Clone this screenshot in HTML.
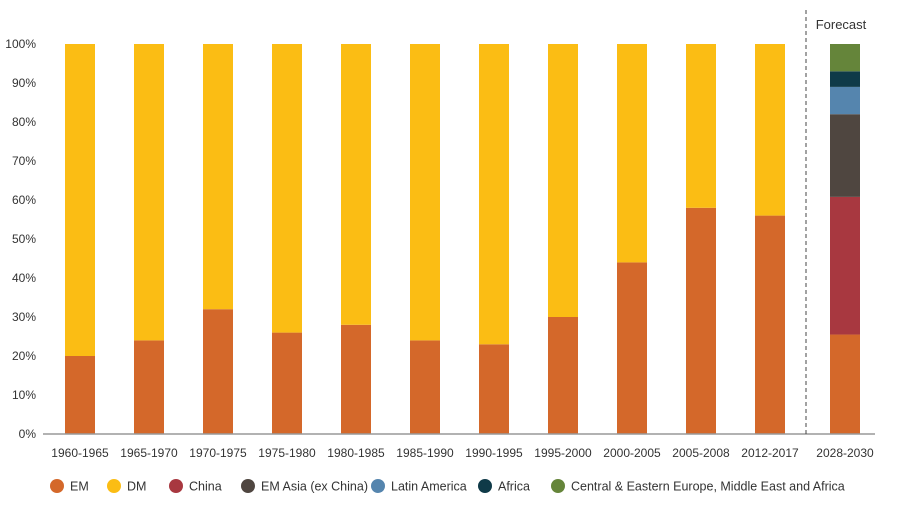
<!DOCTYPE html>
<html><head><meta charset="utf-8"><style>
body{margin:0;background:#fff;}
svg{display:block;font-family:"Liberation Sans Narrow","Liberation Sans",sans-serif;}
</style></head><body>
<svg id="chart" width="900" height="521" viewBox="0 0 900 521" xmlns="http://www.w3.org/2000/svg"></svg>
<script>
const categories=["1960-1965","1965-1970","1970-1975","1975-1980","1980-1985","1985-1990","1990-1995","1995-2000","2000-2005","2005-2008","2012-2017"];
const emValues=[20,24,32,26,28,24,23,30,44,58,56];
const dmValues=[80,76,68,74,72,76,77,70,56,42,44];
const forecastCategory="2028-2030";
const forecastNames=["EM","China","EM Asia (ex China)","Latin America","Africa","Central & Eastern Europe, Middle East and Africa"];
const forecastValues=[25.5,35.3,21.2,7,4,7];
const yTicks=[0,10,20,30,40,50,60,70,80,90,100];
const legendNames=["EM","DM","China","EM Asia (ex China)","Latin America","Africa","Central & Eastern Europe, Middle East and Africa"];
const colors={"EM":"#d4682a","DM":"#fbbd14","China":"#a83840","EM Asia (ex China)":"#4f4640","Latin America":"#5585ae","Africa":"#0f3a48","Central & Eastern Europe, Middle East and Africa":"#65853a"};

const svg=document.getElementById('chart');
const NS="http://www.w3.org/2000/svg";
const y0=434, pxPer=3.9;
const yS=v=>y0-v*pxPer;
const xS=i=>65+i*69;
const bw=30;
function mk(tag,attrs,parent){const e=document.createElementNS(NS,tag);for(const k in attrs)e.setAttribute(k,attrs[k]);(parent||svg).appendChild(e);return e;}

yTicks.forEach(t=>{
  const e=mk('text',{x:36,y:yS(t)+4,'text-anchor':'end','font-size':12,fill:'#333'});
  
  
  e.textContent=t+'%';
});

categories.forEach((c,i)=>{
  const x=xS(i);
  const r1=mk('rect',{x:x,y:yS(emValues[i]),width:bw,height:emValues[i]*pxPer,fill:colors.EM});
  
  
  const r2=mk('rect',{x:x,y:yS(emValues[i]+dmValues[i]),width:bw,height:dmValues[i]*pxPer,fill:colors.DM});
  
  
  const t=mk('text',{x:x+bw/2,y:457,'text-anchor':'middle','font-size':12,fill:'#333'});
  
  
  t.textContent=c;
});

let acc=0;
const fx=830;
forecastValues.forEach((v,k)=>{
  const r=mk('rect',{x:fx,y:yS(acc+v),width:bw,height:v*pxPer,fill:colors[forecastNames[k]]});
  
  
  acc+=v;
});
const ft=mk('text',{x:fx+bw/2,y:457,'text-anchor':'middle','font-size':12,fill:'#333'});


ft.textContent=forecastCategory;

const ax=mk('line',{x1:43,y1:y0,x2:875,y2:y0,stroke:'#999','stroke-width':1.5});


const dl=mk('line',{x1:806,y1:10,x2:806,y2:y0,stroke:'#444','stroke-width':1,'stroke-dasharray':'4,3'});


const fl=mk('text',{x:841,y:29,'text-anchor':'middle','font-size':13,fill:'#333'});


fl.textContent='Forecast';

const lx=[57,114,176,248,378,485,558];
legendNames.forEach((n,i)=>{
  const g=mk('g',{});
  
  
  mk('circle',{cx:lx[i],cy:486,r:7,fill:colors[n]},g);
  const t=mk('text',{x:lx[i]+13,y:490.5,'font-size':12.5,fill:'#333'},g);
  t.textContent=n;
});
</script>
</body></html>
